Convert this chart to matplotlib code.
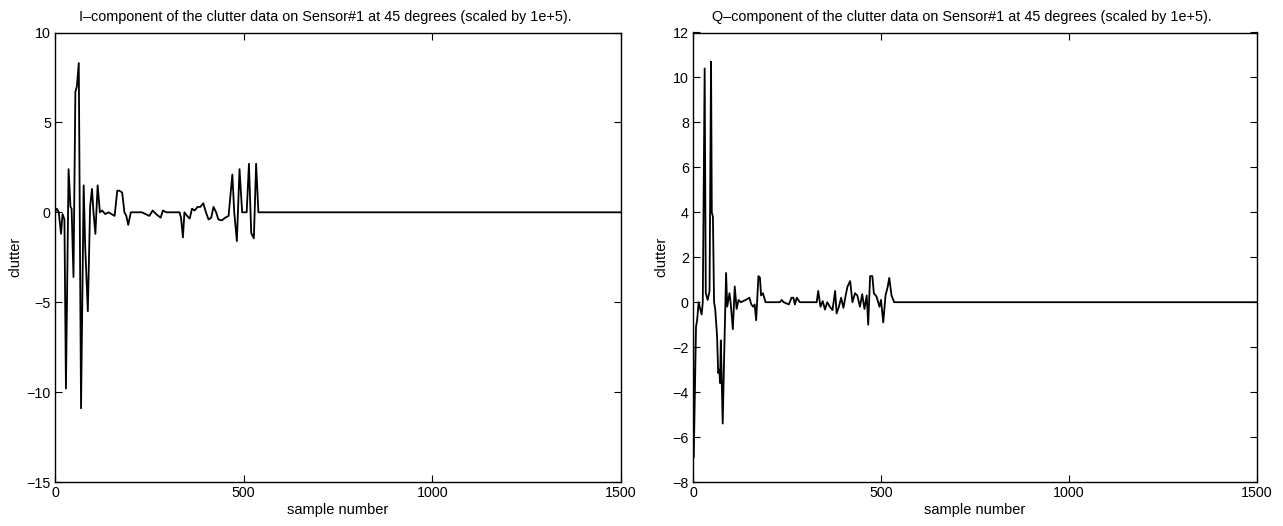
import matplotlib

matplotlib.use("Agg")
import matplotlib.pyplot as plt

plt.rcParams["font.family"] = ["Liberation Sans", "DejaVu Sans"]

# I-component (scaled by 1e+5), breakpoints
I_SAMPLES = [0, 5, 10, 16, 20, 25, 29, 36, 41, 44, 49, 54, 58, 63, 69, 76, 80, 87, 93,
             98, 102, 107, 113, 119, 125, 133, 142, 150, 158, 165, 171, 178, 184, 189,
             194, 201, 230, 250, 259, 268, 280, 286, 295, 330, 334, 339, 343, 350, 357,
             363, 370, 378, 385, 393, 400, 407, 414, 420, 427, 433, 442, 451, 460, 470,
             475, 482, 489, 496, 502, 508, 514, 520, 527, 533, 539, 1500]
I_VALUES = [0.0, 0.2, 0.0, -1.2, -0.1, -0.4, -9.8, 2.4, 0.3, 0.2, -3.6, 6.7, 7.0, 8.3,
            -10.9, 1.5, -1.9, -5.5, 0.3, 1.3, 0.0, -1.2, 1.5, 0.0, 0.1, -0.1, 0.0, -0.1,
            -0.2, 1.2, 1.2, 1.1, 0.0, -0.2, -0.7, 0.0, 0.0, -0.2, 0.1, -0.1, -0.3, 0.1,
            0.0, 0.0, -0.3, -1.4, 0.0, -0.2, -0.35, 0.2, 0.1, 0.3, 0.3, 0.5, 0.0, -0.4,
            -0.3, 0.3, 0.0, -0.4, -0.45, -0.3, -0.2, 2.1, 0.0, -1.6, 2.4, 0.0, 0.0, 0.0,
            2.7, -1.15, -1.45, 2.7, 0.0, 0.0]

# Q-component (scaled by 1e+5)
Q_SAMPLES = [0, 2, 8, 11, 15, 19, 23, 26, 31, 34, 39, 44, 48, 50, 53, 56, 59, 64, 67,
             70, 72, 74, 79, 83, 88, 91, 97, 100, 106, 111, 116, 121, 127, 140, 150, 155,
             160, 164, 168, 174, 178, 181, 186, 193, 231, 236, 241, 255, 262, 267, 271,
             276, 284, 329, 333, 339, 345, 351, 357, 364, 371, 378, 382, 388, 394, 400,
             406, 411, 418, 424, 431, 437, 444, 450, 456, 462, 466, 471, 477, 481, 488,
             496, 500, 506, 512, 518, 522, 528, 535, 1500]
Q_VALUES = [0.0, -6.9, -1.1, -0.8, 0.0, -0.3, -0.55, 0.0, 10.4, 0.4, 0.1, 0.5, 10.7,
            4.0, 3.8, 0.0, -0.3, -1.5, -3.15, -3.0, -3.6, -1.7, -5.4, -2.3, 1.3, -0.2,
            0.4, 0.0, -1.2, 0.7, -0.3, 0.1, 0.0, 0.1, 0.2, -0.1, -0.2, -0.1, -0.8, 1.16,
            1.1, 0.3, 0.4, 0.0, 0.0, 0.1, 0.0, -0.1, 0.2, 0.2, -0.1, 0.2, 0.0, 0.0, 0.5,
            -0.2, 0.05, -0.33, 0.0, -0.2, -0.35, 0.5, -0.5, -0.2, 0.2, -0.25, 0.3, 0.7,
            0.94, 0.0, 0.4, 0.3, -0.2, 0.35, -0.3, 0.3, -1.0, 1.16, 1.16, 0.4, 0.25,
            -0.2, 0.1, -0.9, 0.3, 0.7, 1.08, 0.3, 0.0, 0.0]

X_TICKS = [0, 500, 1000, 1500]
I_YTICKS = [-15, -10, -5, 0, 5, 10]
Q_YTICKS = [-8, -6, -4, -2, 0, 2, 4, 6, 8, 10, 12]


def style_axes(ax, title, yticks):
    ax.set_xlim(0, 1500)
    ax.set_ylim(yticks[0], yticks[-1])
    ax.set_xticks(X_TICKS)
    ax.set_yticks(yticks)
    ax.tick_params(direction="in", top=True, right=True, length=5, width=0.8,
                   labelsize=10.3, pad=3)
    # titles in the original sit a little left of the axes centre
    ax.set_title(title, fontsize=10.4, pad=8, x=0.477)
    ax.set_xlabel("sample number", fontsize=10.5, labelpad=2)
    ax.set_ylabel("clutter", fontsize=10.5, labelpad=3)
    for spine in ax.spines.values():
        spine.set_linewidth(1.0)


fig = plt.figure(figsize=(12.83, 5.26), dpi=100, facecolor="white")
ax_i = fig.add_axes([55 / 1283, 44 / 526, 566 / 1283, 449.5 / 526])
ax_q = fig.add_axes([693 / 1283, 44 / 526, 564 / 1283, 449.5 / 526])

ax_i.plot(I_SAMPLES, I_VALUES, color="black", lw=1.3)
ax_q.plot(Q_SAMPLES, Q_VALUES, color="black", lw=1.3)

style_axes(ax_i, "I\u2013component of the clutter data on Sensor#1 at 45 degrees (scaled by 1e+5).",
           I_YTICKS)
style_axes(ax_q, "Q\u2013component of the clutter data on Sensor#1 at 45 degrees (scaled by 1e+5).",
           Q_YTICKS)

fig.savefig("out.png", dpi=100, facecolor="white")
